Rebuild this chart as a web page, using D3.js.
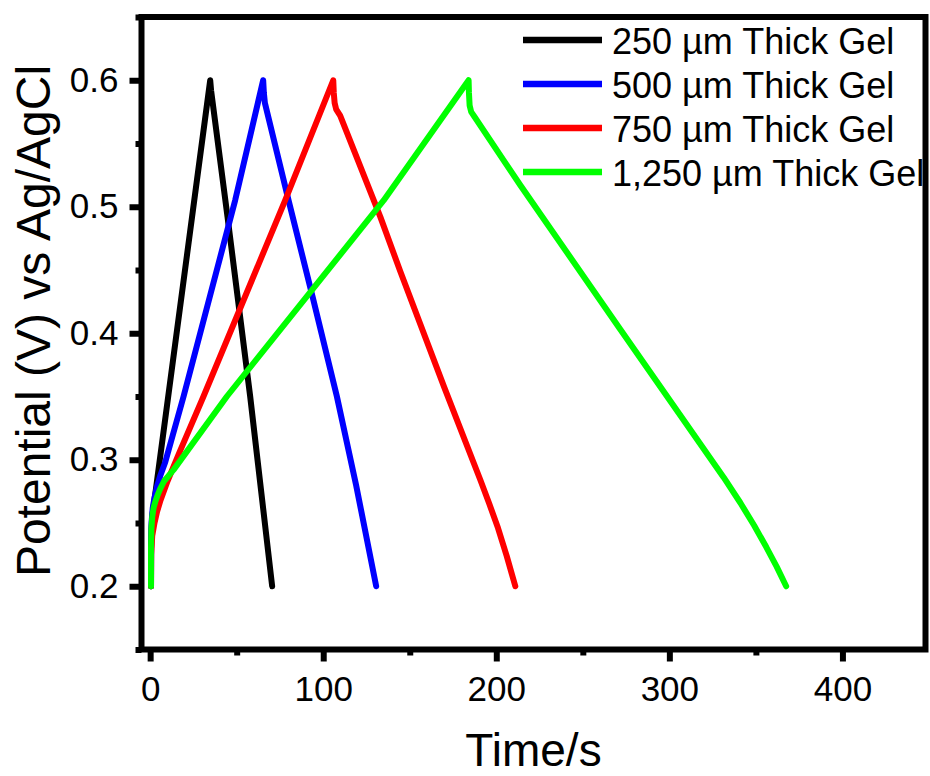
<!DOCTYPE html>
<html lang="en">
<head>
    <meta charset="UTF-8">
    <title>Galvanostatic charge-discharge</title>
    <script src="https://d3js.org/d3.v7.min.js"></script>
    <style>
        body {
            margin: 0;
            background: #fff;
            font-family: "Liberation Sans", Arial, sans-serif;
        }
        .tick text {
            font-family: "Liberation Sans", Arial, sans-serif;
            fill: #000;
        }
    </style>
</head>
<body>
    <div id="chart"></div>
    <script>
        // 數據
        const labels = ["250 µm Thick Gel", "500 µm Thick Gel", "750 µm Thick Gel", "1,250 µm Thick Gel"];
        const colors = ["#000000", "#0000ff", "#ff0000", "#00ff00"];

        const t250 = [0.5, 0.55, 0.8, 1.5, 34.7, 35.2, 44.7, 57.8, 70.5];
        const v250 = [0.2, 0.23, 0.245, 0.258, 0.6, 0.592, 0.492, 0.35, 0.2];

        const t500 = [0.5, 0.55, 0.8, 1.5, 2.5, 4, 6, 8.7, 19.3, 49.1, 65.3, 65.7, 66.3, 80, 94, 107.9, 119, 130.6];
        const v500 = [0.2, 0.23, 0.25, 0.262, 0.27, 0.279, 0.288, 0.298, 0.35, 0.505, 0.6, 0.59, 0.582, 0.505, 0.428, 0.35, 0.28, 0.2];

        const t750 = [0.5, 0.6, 1.2, 2.5, 4, 6, 10, 17.3, 30.8, 78, 105.8, 106.1, 106.6, 107.5, 109.8, 133, 144.5, 170, 190.8, 196, 201, 206, 211];
        const v750 = [0.2, 0.225, 0.24, 0.25, 0.259, 0.268, 0.283, 0.307, 0.35, 0.505, 0.6, 0.59, 0.582, 0.577, 0.572, 0.492, 0.449, 0.357, 0.284, 0.265, 0.246, 0.224, 0.2];

        const t1250 = [0.5, 0.5, 0.7, 1.2, 2, 3, 4.3, 5.8, 8, 13.5, 44.3, 134.9, 184, 184.2, 184.6, 185.5, 187.5, 213.9, 271.7, 331.4, 341, 349, 356, 362, 367.5];
        const v1250 = [0.2, 0.23, 0.245, 0.255, 0.262, 0.267, 0.272, 0.277, 0.283, 0.292, 0.35, 0.505, 0.6, 0.59, 0.58, 0.575, 0.571, 0.517, 0.403, 0.286, 0.266, 0.248, 0.231, 0.2155, 0.2];

        const times = [t250, t500, t750, t1250];
        const volts = [v250, v500, v750, v1250];

        const xTicks = [0, 100, 200, 300, 400];
        const xMinor = [50, 150, 250, 350];
        const yTicks = [0.2, 0.3, 0.4, 0.5, 0.6];
        const yMinor = [0.15, 0.25, 0.35, 0.45, 0.55, 0.65];

        // 尺寸
        const width = 930;
        const height = 776;
        const plotL = 141.5, plotR = 925.5, plotT = 17, plotB = 649.5;

        const svg = d3.select("#chart")
            .append("svg")
            .attr("width", width)
            .attr("height", height);

        const x = d3.scaleLinear().domain([-5, 448]).range([plotL, plotR]);
        const y = d3.scaleLinear().domain([0.15, 0.65]).range([plotB, plotT]);

        // 曲線
        const line = d3.line()
            .x(d => x(d[0]))
            .y(d => y(d[1]));

        times.forEach(function(ts, i) {
            const pts = ts.map((t, j) => [t, volts[i][j]]);
            svg.append("path")
                .datum(pts)
                .attr("fill", "none")
                .attr("stroke", colors[i])
                .attr("stroke-width", 6)
                .attr("stroke-linejoin", "round")
                .attr("stroke-linecap", "round")
                .attr("d", line);
        });

        // 坐標軸
        const xAxis = svg.append("g")
            .attr("transform", `translate(0,${plotB})`)
            .call(d3.axisBottom(x).tickValues(xTicks).tickSizeInner(12).tickSizeOuter(0).tickFormat(d3.format("d")));
        xAxis.selectAll("text").attr("y", 51).attr("dy", null).style("font-size", "35px");

        svg.append("g")
            .attr("transform", `translate(0,${plotB})`)
            .call(d3.axisBottom(x).tickValues(xMinor).tickSizeInner(6).tickSizeOuter(0).tickFormat(""));

        const yAxis = svg.append("g")
            .attr("transform", `translate(${plotL},0)`)
            .call(d3.axisLeft(y).tickValues(yTicks).tickSizeInner(12).tickSizeOuter(0).tickPadding(11).tickFormat(d3.format(".1f")));
        yAxis.selectAll("text").style("font-size", "35px");

        svg.append("g")
            .attr("transform", `translate(${plotL},0)`)
            .call(d3.axisLeft(y).tickValues(yMinor).tickSizeInner(6).tickSizeOuter(0).tickFormat(""));

        svg.selectAll(".domain").remove();
        svg.selectAll(".tick line").attr("stroke", "#000").attr("stroke-width", 6);

        // 外框
        svg.append("rect")
            .attr("x", plotL)
            .attr("y", plotT)
            .attr("width", plotR - plotL)
            .attr("height", plotB - plotT)
            .attr("fill", "none")
            .attr("stroke", "#000")
            .attr("stroke-width", 6);

        // 軸標題
        svg.append("text")
            .attr("x", (plotL + plotR) / 2)
            .attr("y", 766)
            .attr("text-anchor", "middle")
            .style("font-size", "46px")
            .text("Time/s");

        svg.append("text")
            .attr("transform", "translate(50,321) rotate(-90)")
            .attr("text-anchor", "middle")
            .style("font-size", "48px")
            .text("Potential (V) vs Ag/AgCl");

        // 圖例
        const legend = svg.append("g");
        labels.forEach(function(name, i) {
            const ly = 40 + i * 44;
            legend.append("line")
                .attr("x1", 523).attr("x2", 602)
                .attr("y1", ly).attr("y2", ly)
                .attr("stroke", colors[i])
                .attr("stroke-width", 6.5);
            legend.append("text")
                .attr("x", 612)
                .attr("y", ly + 14)
                .style("font-size", "36px")
                .text(name);
        });
    </script>
</body>
</html>
